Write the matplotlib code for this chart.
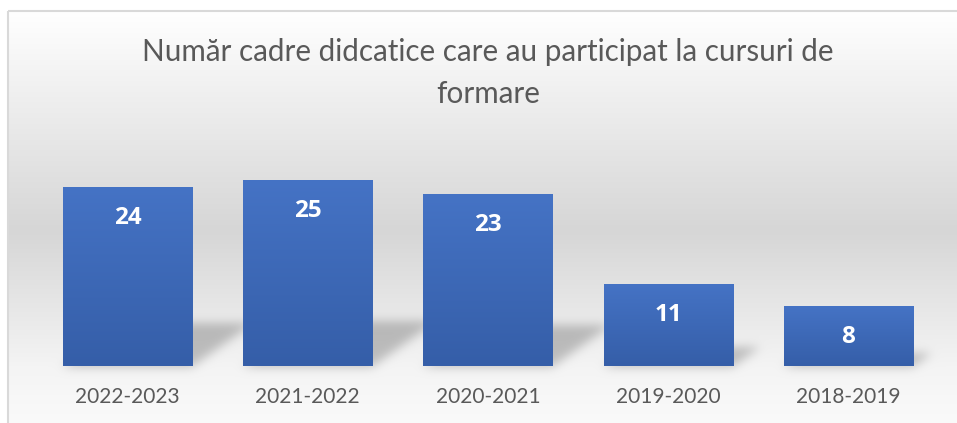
import numpy as np
import matplotlib
matplotlib.use("Agg")
import matplotlib.pyplot as plt
from matplotlib.colors import LinearSegmentedColormap

categories = ["2022-2023", "2021-2022", "2020-2021", "2019-2020", "2018-2019"]
values = [24, 25, 23, 11, 8]
title = "Număr cadre didcatice care au participat la cursuri de\nformare"

W, H = 957, 423
fig = plt.figure(figsize=(W / 100, H / 100), dpi=100)
fig.patch.set_facecolor("white")

bg = fig.add_axes([0, 0, 1, 1], zorder=0)
bg.set_axis_off()
bg.set_xlim(0, W)
bg.set_ylim(H, 0)

ax = fig.add_axes([37.5 / W, 57 / H, 901 / W, 223.8 / H], zorder=1)
ax.set_xlim(-0.5, len(categories) - 0.5)
ax.set_ylim(0, 30)
ax.patch.set_alpha(0)
for s in ax.spines.values():
    s.set_visible(False)
ax.set_yticks([])

bars = ax.bar(range(len(categories)), values, width=0.717, color="none", edgecolor="none")

# background gradient (chart area fill)
rows = np.arange(H)
gy = np.interp(rows, [11, 230, 366, 423], [255, 214, 244, 250]) / 255.0
img = np.ones((H, W, 3))
img[:, :, :] = gy[:, None, None]
img[:11, :, :] = 1.0
img[:, :7, :] = 1.0

# perspective shadows behind bars
mask = np.zeros((H, W))
for p in bars:
    x0, y0 = p.get_x(), p.get_y()
    x1, y1 = x0 + p.get_width(), y0 + p.get_height()
    (dx0, dyb), (dx1, dyt) = ax.transData.transform([(x0, y0), (x1, y1)])
    sh = 0.25 * (dyt - dyb)
    skew = 1.4 * sh
    for k in range(int(sh)):
        f = k / sh
        r = int(round(H - (dyb + k)))
        a = int(round(dx0 + skew * f))
        b = int(round(dx1 + skew * f))
        if 0 <= r < H:
            mask[r, max(a, 0):min(b, W)] = 1.0

def blur1d(arr, sigma, axis):
    n = int(3 * sigma)
    kx = np.arange(-n, n + 1)
    kern = np.exp(-kx ** 2 / (2 * sigma ** 2))
    kern /= kern.sum()
    return np.apply_along_axis(lambda m: np.convolve(m, kern, mode="same"), axis, arr)

mask = blur1d(blur1d(mask, 5, 0), 5, 1)
shade = 1 - 0.22 * mask
img = img * shade[:, :, None]
img[:11, :, :] = 1.0
img[:, :7, :] = 1.0
bg.imshow(img, extent=(0, W, H, 0), aspect="auto", interpolation="bilinear", zorder=0)

# chart frame
bg.plot([7.5, 7.5], [11.5, H + 5], color="#d9d9d9", lw=1.5, zorder=1, solid_capstyle="butt")
bg.plot([7.5, W + 5], [11.5, 11.5], color="#d9d9d9", lw=1.5, zorder=1, solid_capstyle="butt")

# gradient bars
cmap = LinearSegmentedColormap.from_list("bar", ["#355ea8", "#4573c5"])
grad = np.linspace(0, 1, 256).reshape(-1, 1)
for p in bars:
    x0, y0 = p.get_x(), p.get_y()
    x1, y1 = x0 + p.get_width(), y0 + p.get_height()
    im = ax.imshow(grad, extent=(x0, x1, y0, y1), origin="lower", aspect="auto",
                   cmap=cmap, zorder=2, interpolation="bilinear")
    im.set_clip_path(p)
ax.set_xlim(-0.5, len(categories) - 0.5)
ax.set_ylim(0, 30)

for i, v in enumerate(values):
    ax.annotate(str(v), xy=(i, v), xytext=(0, -31 * 0.72), textcoords="offset points",
                ha="center", va="center", color="white", fontweight="bold",
                fontsize=17.5, family="Open Sans", zorder=3)

ax.set_xticks(range(len(categories)))
ax.set_xticklabels(categories, family="Lato", fontsize=15, color="#595959")
ax.tick_params(axis="x", length=0, pad=15)

fig.text(488 / W, 1 - 73 / H, title, ha="center", va="center", family="Lato",
         fontweight="normal", fontsize=21.3, color="#595959", linespacing=1.62)

fig.savefig("out.png", dpi=100)
